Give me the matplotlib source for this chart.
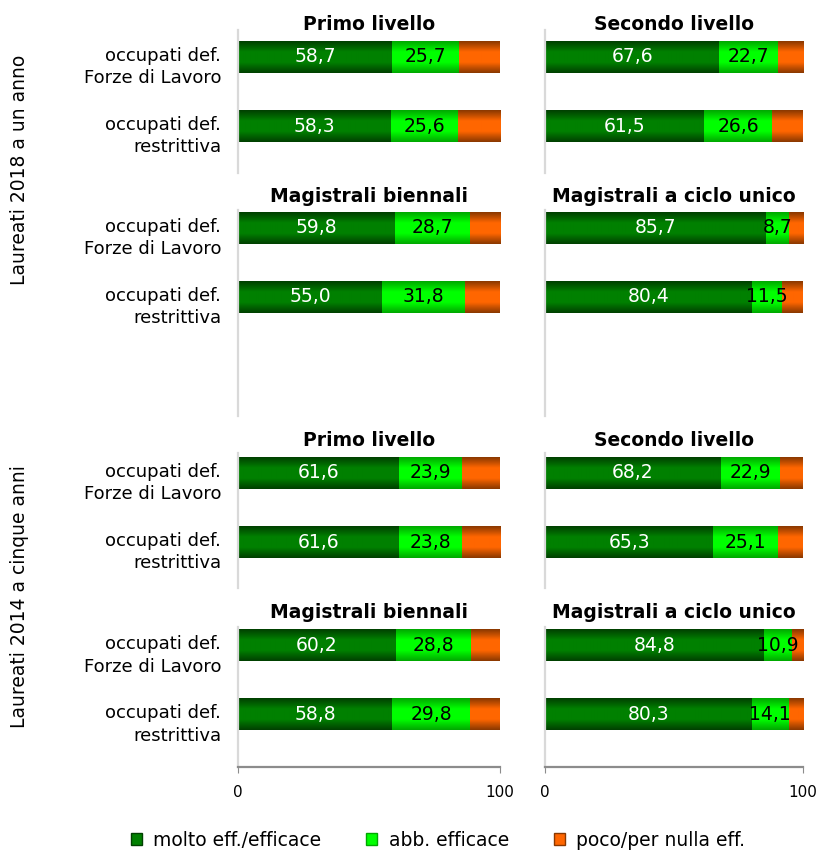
import matplotlib.pyplot as plt
import numpy as np
from matplotlib.colors import LinearSegmentedColormap
from matplotlib.patches import Patch

# data
righe = ["occupati def.\nForze di Lavoro", "occupati def.\nrestrittiva"]
pannelli = ["Primo livello", "Secondo livello", "Magistrali biennali", "Magistrali a ciclo unico"]
gruppi = ["Laureati 2018 a un anno", "Laureati 2014 a cinque anni"]
serie = ["molto eff./efficace", "abb. efficace", "poco/per nulla eff."]

# Laureati 2018 a un anno
molto_1 = [[58.7, 58.3], [67.6, 61.5], [59.8, 55.0], [85.7, 80.4]]
abb_1 = [[25.7, 25.6], [22.7, 26.6], [28.7, 31.8], [8.7, 11.5]]
poco_1 = [[15.6, 16.1], [9.7, 11.9], [11.5, 13.2], [5.6, 8.1]]
# Laureati 2014 a cinque anni
molto_2 = [[61.6, 61.6], [68.2, 65.3], [60.2, 58.8], [84.8, 80.3]]
abb_2 = [[23.9, 23.8], [22.9, 25.1], [28.8, 29.8], [10.9, 14.1]]
poco_2 = [[14.5, 14.6], [8.9, 9.6], [11.0, 11.4], [4.3, 5.6]]

colori_mid = ["#008000", "#00ff00", "#ff6600"]
colori_bordo = ["#004000", "#00a800", "#8a3800"]
colori_testo = ["white", "black", None]

plt.rcParams['font.family'] = ['DejaVu Sans']

W, H = 818, 852
fig = plt.figure(figsize=(W / 100, H / 100), dpi=100)


def px_axes(x0, x1, y0, y1):
    return fig.add_axes([x0 / W, 1 - y1 / H, (x1 - x0) / W, (y1 - y0) / H])


# layout in pixel: (spine top, spine bottom, first bar center, title y)
rows = [(30, 173, 57, 25), (210, 416, 228, 196), (453, 588, 473, 440), (627, 767, 645.5, 612)]
cols = [(238, 500), (545, 803)]
unit = 69
bar_h = 32 / unit

cmaps = [LinearSegmentedColormap.from_list("g%d" % i, [colori_bordo[i], colori_mid[i], colori_mid[i], colori_bordo[i]])
         for i in range(3)]
grad = np.linspace(0, 1, 64).reshape(-1, 1)

dati = [(molto_1, abb_1, poco_1), (molto_2, abb_2, poco_2)]

for g in range(2):
    for p in range(4):
        r = g * 2 + p // 2
        c = p % 2
        top, bot, c0, ty = rows[r]
        x0, x1 = cols[c]
        ax = px_axes(x0, x1, top, bot)
        y = np.arange(2)
        left = np.zeros(2)
        for s in range(3):
            vals = np.array(dati[g][s][p])
            bars = ax.barh(y, vals, left=left, height=bar_h, color=colori_mid[s], linewidth=0)
            for b in bars:
                im = ax.imshow(grad, cmap=cmaps[s], aspect='auto', interpolation='bilinear',
                               extent=[b.get_x(), b.get_x() + b.get_width(),
                                       b.get_y() + b.get_height(), b.get_y()], zorder=2)
                im.set_clip_path(b)
            if colori_testo[s]:
                for i, v in enumerate(vals):
                    ax.text(left[i] + v / 2, y[i], ("%.1f" % v).replace(".", ","),
                            ha='center', va='center', color=colori_testo[s], fontsize=13.5, zorder=5)
            left = left + vals
        ax.set_xlim(0, 100)
        ax.set_ylim((bot - c0) / unit, -(c0 - top) / unit)
        for sp in ["top", "right"]:
            ax.spines[sp].set_visible(False)
        ax.spines["left"].set_color("#d9d9d9")
        ax.spines["left"].set_linewidth(1.6)
        if c == 0:
            ax.set_yticks(y + 0.08)
            ax.set_yticklabels(righe, fontsize=13, ha='right', linespacing=1.35)
            ax.tick_params(axis='y', length=0, pad=12)
        else:
            ax.set_yticks([])
        if r == 3:
            ax.spines["bottom"].set_color("#8c8c8c")
            ax.spines["bottom"].set_linewidth(1.6)
            ax.set_xticks([0, 100])
            ax.set_xticklabels(["0", "100"], fontsize=11)
            ax.tick_params(axis='x', length=4, color="#8c8c8c", pad=9)
        else:
            ax.spines["bottom"].set_visible(False)
            ax.set_xticks([])
        fig.text((x0 + x1) / 2 / W, 1 - ty / H, pannelli[p], ha='center', va='center',
                 fontsize=13.5, fontweight='bold')

fig.text(20 / W, 1 - 170 / H, gruppi[0], rotation=90, ha='center', va='center', fontsize=13.5)
fig.text(20 / W, 1 - 597 / H, gruppi[1], rotation=90, ha='center', va='center', fontsize=13.5)

handles = [Patch(facecolor=colori_mid[i], edgecolor=colori_bordo[i]) for i in range(3)]
fig.legend(handles, serie, loc='center', bbox_to_anchor=(438 / W, 1 - 840 / H), ncol=3,
           frameon=False, fontsize=13.5, handlelength=0.6, handleheight=0.6,
           handletextpad=0.6, columnspacing=2.4, borderaxespad=0)

fig.savefig("out.png", dpi=100)
